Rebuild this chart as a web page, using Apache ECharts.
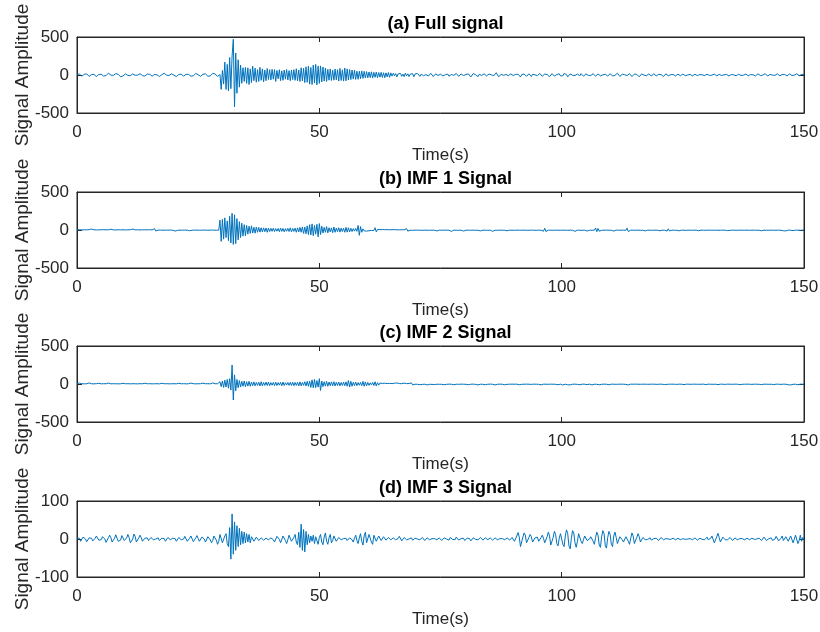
<!DOCTYPE html>
<html>
<head>
<meta charset="utf-8">
<script src="https://cdn.jsdelivr.net/npm/echarts@6/dist/echarts.min.js"></script>
<style>
html,body{margin:0;padding:0;background:#fff;}
#chart{width:820px;height:632px;}
</style>
</head>
<body>
<div id="chart"></div>
<script>
const sampleStep = 0.25;
const panelTitles = ['(a) Full signal', '(b) IMF 1 Signal', '(c) IMF 2 Signal', '(d) IMF 3 Signal'];
const xTicks = [0, 50, 100, 150];
const yTicksA = [-500, 0, 500];
const yTicksB = [-500, 0, 500];
const yTicksC = [-500, 0, 500];
const yTicksD = [-100, 0, 100];
const xName = 'Time(s)';
const yName = 'Signal Amplitude';

const fullSignal = [
8,18,12,-5,-15,-6,9,21,14,-3,-18,-12,5,15,9,-8,-21,-9,6,17,
10,-3,-14,-22,-8,12,24,15,-2,-12,-5,8,18,27,9,-10,-24,-30,-12,6,
15,9,-6,-17,-9,5,14,8,-3,-10,-2,9,17,6,-8,-18,-14,3,12,20,
9,-5,-15,-8,6,14,3,-9,-20,-10,5,15,22,12,-3,-14,-6,8,15,9,
-2,-12,-21,-9,8,18,10,-5,-14,-3,9,17,8,-6,-15,-24,-10,6,20,14,
3,-9,-18,-6,10,22,15,-3,-16,-27,-12,9,21,30,14,-8,-20,-10,6,-190,
60,-120,170,-190,140,-210,230,-180,250,470,-420,290,-240,200,-160,130,-110,95,-85,100,
-110,95,-125,80,-100,115,-75,90,-95,70,-85,100,-70,80,-90,65,-75,85,-60,70,
-65,75,-55,70,-85,60,-50,70,-75,55,-70,65,-55,72,-65,58,-75,66,-60,70,
-70,82,-75,66,-85,95,-78,88,-100,108,-95,115,-120,100,-125,130,-105,140,-130,118,
-110,120,-92,105,-80,92,-85,75,-68,80,-72,62,-68,78,-64,70,-80,88,-72,68,
-80,92,-76,80,-66,72,-60,66,-54,64,-58,50,-56,48,-50,54,-44,48,-40,45,
-38,40,-34,42,-40,35,-30,38,-35,32,-28,35,-32,30,-36,28,-25,32,-30,28,
-15,22,-10,18,-25,15,-8,20,-18,12,-22,25,-12,16,-20,10,-14,18,-24,14,
8,20,-5,-18,12,25,-10,-22,6,18,-14,-8,22,10,-20,-12,15,24,-6,-18,
10,16,-12,-20,4,22,12,-16,-24,6,18,-4,-12,20,8,-18,-10,14,22,-8,
-20,6,24,14,-10,-26,-8,18,28,4,-16,-22,10,20,-6,-14,16,8,-12,-20,
12,26,2,-18,-10,16,30,8,-24,-14,10,22,-4,-20,6,18,-8,-16,14,20,
-6,-22,8,24,10,-14,-26,4,20,14,-10,-18,8,16,-4,-20,10,22,2,-16,
-8,14,20,-2,-18,-12,12,24,6,-16,-22,4,18,10,-14,-20,6,26,16,-12,
-28,-10,20,32,6,-24,-18,14,22,-4,-20,-6,16,12,-14,-10,18,8,-16,-6,
14,20,-4,-18,-8,12,18,-6,-16,4,14,8,-12,-20,2,16,10,-8,-14,6,
18,6,-14,-22,-4,16,24,2,-18,-12,10,20,4,-14,-8,12,18,-2,-20,-10,
12,22,8,-16,-24,-6,14,20,-2,-18,-10,10,16,-4,-14,6,18,4,-12,-16,
8,20,6,-14,-20,2,16,10,-10,-16,4,14,6,-8,-12,8,12,-4,-10,2,
12,6,-8,-14,0,10,8,-6,-12,2,10,4,-8,-10,6,12,2,-10,-8,4,
10,6,-6,-12,-2,8,10,-4,-10,0,8,6,-6,-10,2,10,8,-4,-12,-4,
6,12,2,-8,-10,4,10,6,-6,-12,-2,8,12,0,-10,-6,6,10,2,-8,
-12,4,16,10,-8,-16,-2,12,18,4,-14,-10,8,14,-2,-12,-4,10,16,2,
-10,-14,6,18,8,-8,-12,4,14,10,-6,-16,-2,12,16,4,-10,-8,8,14,
6];

const imf1Signal = [
2,-3,4,-2,1,-4,3,-1,2,-3,5,-2,12,-10,3,-2,1,-3,2,-1,
3,-2,4,-5,2,-1,3,-14,10,-4,2,-3,1,-2,3,-1,2,-4,3,-2,
1,-3,2,-2,4,-16,12,-3,2,-1,3,-2,1,-3,2,-2,3,-1,2,-3,
4,-2,1,-3,18,-12,4,-2,3,-1,2,-3,1,-2,3,-2,2,-1,4,-3,
2,-14,10,-4,3,-2,1,-3,2,-1,3,-2,4,-10,12,-3,2,-1,3,-2,
1,-3,2,-2,3,-1,2,-3,1,-2,3,-1,4,-2,2,-3,1,-2,130,-150,
140,-120,160,-100,120,-140,180,-170,220,-190,200,-180,150,-130,110,-100,90,-80,70,-75,
60,-55,50,-45,55,-40,35,-42,38,-30,34,-28,30,-25,28,-22,26,-30,24,-20,
22,-18,24,-20,18,-16,20,-22,26,-18,20,-24,18,-16,22,-20,28,-24,20,-18,
24,-30,28,-26,35,-30,40,-45,38,-50,55,-60,70,-65,80,-75,60,-55,75,-90,
85,-60,50,-40,35,-30,45,-38,30,-25,28,-35,40,-30,25,-22,30,-28,24,-20,
22,-30,35,-28,30,-25,22,-20,18,-15,20,-18,60,-70,45,-30,15,-12,10,-14,
12,-10,8,-6,9,-7,30,-25,8,-6,5,-4,6,-5,4,-3,5,-4,3,-5,
4,-3,5,-2,3,-4,2,-3,4,-2,3,-5,18,-15,4,-3,2,-4,3,-2,
3,-2,4,-3,2,-4,3,-2,5,-3,2,-4,3,-2,4,-3,14,-12,3,-2,
2,-3,4,-2,3,-2,4,-3,20,-18,3,-2,4,-3,2,-4,3,-2,16,-14,
3,-2,4,-3,2,-3,4,-2,3,-4,2,-3,14,-12,4,-2,3,-3,2,-4,
3,-2,22,-18,4,-3,2,-4,3,-2,4,-3,2,-3,12,-10,3,-2,4,-3,
2,-4,3,-2,4,-3,2,-3,4,-2,3,-4,2,-3,4,-2,3,-3,2,-4,
3,-2,4,-3,20,-16,24,-20,3,-2,4,-3,2,-4,3,-2,4,-3,2,-3,
4,-2,3,-3,2,-4,3,-2,4,-3,22,-18,3,-2,4,-3,2,-4,3,-2,
18,-14,4,-3,2,-3,4,-2,26,-22,20,-16,3,-4,2,-3,4,-2,3,-3,
2,-4,16,-14,3,-2,4,-3,2,-3,4,-2,3,-4,24,-20,3,-2,4,-3,
2,-3,4,-2,3,-4,2,-3,14,-12,3,-2,4,-3,2,-4,3,-2,4,-3,
12,-10,3,-2,4,-3,18,-14,16,-12,3,-2,4,-3,2,-4,12,-10,3,-2,
4,-3,2,-4,3,-2,4,-3,2,-3,4,-2,12,-10,3,-2,4,-3,2,-4,
3,-2,4,-3,2,-3,4,-2,3,-4,2,-3,4,-2,3,-3,10,-8,2,-4,
3,-2,4,-3,2,-4,3,-2,4,-3,2,-3,4,-2,3,-4,2,-3,4,-2,
3,-3,2,-4,12,-10,3,-2,4,-3,2,-4,3,-2,4,-3,2,-3,4,-2,
3,-4,12,-10,14,-12,3,-2,4,-3,10,-8,3,-2,4,-3,2,-4,3,-2,
2];

const imf2Signal = [
3,-4,12,-10,4,-3,2,-5,3,-2,14,-12,3,-4,2,-3,4,-2,10,-8,
2,-3,4,-2,3,-4,12,-10,2,-3,4,-2,3,-3,2,-4,3,-2,10,-9,
3,-2,4,-3,2,-3,4,-2,3,-4,2,-3,4,-2,3,-3,10,-8,3,-2,
4,-3,2,-4,3,-2,4,-3,2,-3,10,-8,3,-2,4,-3,2,-4,3,-2,
4,-3,2,-3,10,-8,3,-2,4,-3,2,-4,3,-2,12,-10,4,-3,2,-4,
3,-2,4,-3,12,-10,3,-2,4,-3,2,-4,14,-12,3,-2,4,-3,30,-35,
40,-45,50,-40,60,-55,70,-80,250,-210,120,-90,60,-50,45,-40,35,-30,40,-35,
30,-28,35,-30,25,-22,28,-24,20,-18,22,-25,30,-26,20,-18,24,-20,26,-22,
18,-16,20,-22,24,-20,18,-15,22,-24,26,-20,16,-14,20,-18,22,-20,24,-22,
20,-18,22,-25,28,-24,20,-18,30,-26,35,-30,40,-45,55,-50,60,-48,45,-40,
70,-85,40,-35,30,-28,35,-30,25,-22,28,-24,30,-26,22,-20,26,-24,20,-18,
24,-22,28,-30,45,-40,35,-30,22,-20,25,-22,18,-16,20,-22,35,-30,28,-24,
20,-18,15,-12,22,-20,30,-26,18,-15,12,-10,8,-6,10,-8,6,-5,8,-6,
5,-4,10,-8,14,-12,6,-5,4,-6,12,-10,5,-4,6,-5,15,-12,4,-3,
5,-4,12,-10,6,-5,4,-3,14,-12,5,-4,6,-5,10,-8,4,-3,5,-4,
3,-4,12,-10,5,-4,3,-2,4,-3,12,-10,4,-3,5,-4,3,-2,4,-3,
5,-4,12,-10,4,-3,3,-2,4,-5,14,-12,4,-3,3,-4,12,-10,4,-3,
3,-2,4,-3,14,-12,5,-4,3,-2,4,-3,12,-10,3,-4,5,-3,4,-2,
3,-3,4,-2,12,-10,3,-4,4,-3,5,-2,3,-3,4,-5,3,-2,4,-3,
3,-4,14,-12,3,-2,4,-3,5,-4,3,-2,4,-3,3,-4,12,-10,3,-2,
16,-14,4,-3,12,-10,14,-12,4,-3,3,-2,4,-5,12,-10,3,-2,4,-3,
10,-8,3,-2,14,-12,4,-3,3,-4,12,-10,5,-4,3,-2,4,-3,12,-10,
3,-2,4,-3,3,-4,5,-3,4,-2,3,-3,4,-5,14,-12,3,-2,4,-3,
3,-2,4,-3,5,-4,3,-2,4,-3,3,-4,5,-3,4,-2,3,-3,4,-5,
3,-2,4,-3,10,-8,3,-4,4,-3,5,-2,3,-3,4,-5,3,-2,4,-3,
10,-8,3,-2,4,-3,5,-4,3,-2,4,-3,3,-4,5,-3,4,-2,10,-8,
3,-2,4,-3,3,-4,5,-3,10,-8,4,-2,3,-3,4,-5,3,-2,4,-3,
5,-4,3,-2,4,-3,10,-8,3,-4,5,-3,4,-2,3,-3,4,-5,3,-2,
4,-3,5,-4,10,-8,3,-2,4,-3,3,-4,5,-3,10,-8,4,-2,3,-3,
4,-5,3,-2,4,-3,12,-10,14,-12,3,-4,5,-3,12,-10,4,-2,3,-3,
2];

const imf3Signal = [
3,8,2,-6,-3,5,8,0,-7,-4,3,6,2,-5,-6,2,8,5,-3,-7,
-2,6,9,0,-9,-6,4,10,3,-8,-10,2,11,6,-6,-11,-3,9,7,-4,
-9,3,12,4,-10,-12,0,13,7,-8,-11,3,10,4,-6,-7,2,6,3,-4,
-4,4,6,-2,-6,0,4,3,-4,-5,2,6,1,-6,-3,4,5,-2,-5,2,
6,1,-6,-3,4,6,-2,-7,0,7,4,-6,-7,2,8,4,-7,-8,3,9,
1,-6,-4,5,8,0,-8,-5,6,10,-2,-10,-4,8,12,-3,-14,-6,12,15,
-10,-15,8,14,-12,-20,30,-53,66,-40,45,-30,35,-20,28,-15,20,-12,18,-10,
14,-8,12,-10,6,8,-6,-9,5,7,-4,-6,3,5,-3,-4,2,4,-2,-3,
3,6,-2,-8,-3,7,9,-1,-10,-6,8,12,-4,-12,-2,10,8,-6,-10,4,
12,-8,-15,18,-22,39,-30,25,-34,20,-15,12,-10,8,-6,10,-12,6,8,-14,
4,12,-8,-15,5,16,-6,-14,3,12,-10,-4,8,5,-6,-3,4,6,-2,-5,
1,5,2,-4,-3,3,6,-2,-8,2,10,-4,-12,3,14,-6,-16,8,18,-10,
-15,12,16,-8,-14,10,12,-6,-10,8,9,-4,-8,6,7,-3,-5,4,5,-2,
-4,3,5,-2,-6,1,7,3,-5,-4,4,6,-2,-6,0,5,3,-3,-4,2,
4,0,-3,-2,3,4,-1,-4,-1,3,3,-2,-3,1,4,1,-3,-2,2,3,
-1,-4,-2,3,5,0,-5,-3,4,6,-1,-6,-2,5,4,-3,-5,1,6,2,
-4,-5,2,6,1,-5,-4,3,5,-1,-4,-2,3,4,-1,-3,1,3,0,-2,
2,3,-1,-3,0,3,2,-2,-3,1,3,1,-2,-2,2,3,-1,-3,0,4,
2,-6,-10,8,17,5,-20,-25,5,16,10,-10,-15,4,12,6,-8,-10,3,8,
5,-6,-8,4,10,2,-10,-14,6,18,8,-16,-20,4,20,12,-12,-18,2,14,
10,-14,-20,8,24,14,-18,-26,2,22,16,-10,-22,-6,14,12,-6,-12,-2,8,
6,-4,-8,0,6,4,-6,-14,4,18,10,-16,-22,6,22,14,-18,-24,4,20,
12,-14,-20,8,18,4,-12,-10,6,10,-2,-8,-4,6,8,-6,-14,2,16,8,
-12,-16,4,14,6,-8,-6,4,6,-2,-5,-1,4,3,-3,-4,1,4,2,-3,
-4,1,4,2,-2,-3,1,3,0,-2,-1,2,2,-1,-2,0,2,1,-2,-1,
1,2,-1,-2,0,2,1,-1,-2,1,3,0,-3,-2,2,4,-1,-4,-2,3,
5,-2,-6,2,8,4,-10,-14,6,15,4,-8,-6,5,7,-2,-5,-2,3,4,
-1,-4,-1,3,3,-2,-3,1,3,1,-2,-2,1,2,0,-2,-1,2,2,-1,
-3,0,3,2,-2,-4,1,5,2,-4,-5,1,6,3,-4,-6,0,7,4,-5,
-6,2,8,-4,-8,6,10,-6,-10,8,12,-10,-8,10,6,-12,-4,10,-6,4,
-2];

// ---- Build the chart ----
const panels = [
  { title: panelTitles[0], values: fullSignal, yTicks: yTicksA },
  { title: panelTitles[1], values: imf1Signal, yTicks: yTicksB },
  { title: panelTitles[2], values: imf2Signal, yTicks: yTicksC },
  { title: panelTitles[3], values: imf3Signal, yTicks: yTicksD }
];
const plotTops = [37, 192, 346, 501];
const plotH = 76, plotLeft = 77, plotRight = 16;
const ink = '#262626';
const fontFam = 'Liberation Sans, Arial, Helvetica, sans-serif';

const grid = [], xAxis = [], yAxis = [], series = [], title = [];
panels.forEach((p, i) => {
  grid.push({ left: plotLeft, right: plotRight, top: plotTops[i], height: plotH,
    outerBoundsMode: 'none', containLabel: false,
    show: true, borderColor: ink, borderWidth: 1, backgroundColor: '#fff' });
  const xMin = xTicks[0], xMax = xTicks[xTicks.length - 1];
  const yMin = p.yTicks[0], yMax = p.yTicks[p.yTicks.length - 1];
  const yInt = p.yTicks[1] - p.yTicks[0];
  const xInt = xTicks[1] - xTicks[0];
  xAxis.push({ gridIndex: i, type: 'value', min: xMin, max: xMax, interval: xInt, position: 'bottom',
    name: xName, nameLocation: 'middle', nameGap: 34, nameMoveOverlap: false,
    nameTextStyle: { fontSize: 17, color: ink, fontFamily: fontFam },
    axisLine: { show: true, onZero: false, lineStyle: { color: ink, width: 1 } },
    axisTick: { show: true, inside: true, length: 5, lineStyle: { color: ink } },
    axisLabel: { fontSize: 17, color: ink, fontFamily: fontFam, margin: 11 },
    splitLine: { show: false } });
  xAxis.push({ gridIndex: i, type: 'value', min: xMin, max: xMax, interval: xInt, position: 'top',
    axisLine: { show: true, onZero: false, lineStyle: { color: ink, width: 1 } },
    axisTick: { show: true, inside: true, length: 5, lineStyle: { color: ink } },
    axisLabel: { show: false }, splitLine: { show: false } });
  yAxis.push({ gridIndex: i, type: 'value', min: yMin, max: yMax, interval: yInt, position: 'left',
    name: yName, nameLocation: 'middle', nameGap: 45, nameMoveOverlap: false,
    nameTextStyle: { fontSize: 19, color: ink, fontFamily: fontFam },
    axisLine: { show: true, onZero: false, lineStyle: { color: ink, width: 1 } },
    axisTick: { show: true, inside: true, length: 5, lineStyle: { color: ink } },
    axisLabel: { fontSize: 17, color: ink, fontFamily: fontFam, margin: 8 },
    splitLine: { show: false } });
  yAxis.push({ gridIndex: i, type: 'value', min: yMin, max: yMax, interval: yInt, position: 'right',
    axisLine: { show: true, onZero: false, lineStyle: { color: ink, width: 1 } },
    axisTick: { show: true, inside: true, length: 5, lineStyle: { color: ink } },
    axisLabel: { show: false }, splitLine: { show: false } });
  series.push({ type: 'line', xAxisIndex: 2 * i, yAxisIndex: 2 * i,
    data: p.values.map((v, k) => [k * sampleStep, v]),
    showSymbol: false, symbol: 'none', sampling: 'none',
    lineStyle: { color: '#0072BD', width: 1 }, animation: false, silent: true });
  title.push({ text: p.title, left: plotLeft + (820 - plotLeft - plotRight) / 2, textAlign: 'center',
    top: plotTops[i] - 27,
    textStyle: { fontSize: 18, fontWeight: 'bold', color: '#000', fontFamily: fontFam } });
});

const chart = echarts.init(document.getElementById('chart'), null, { renderer: 'canvas' });
chart.setOption({ animation: false, backgroundColor: '#fff', title, grid, xAxis, yAxis, series });
</script>
</body>
</html>
